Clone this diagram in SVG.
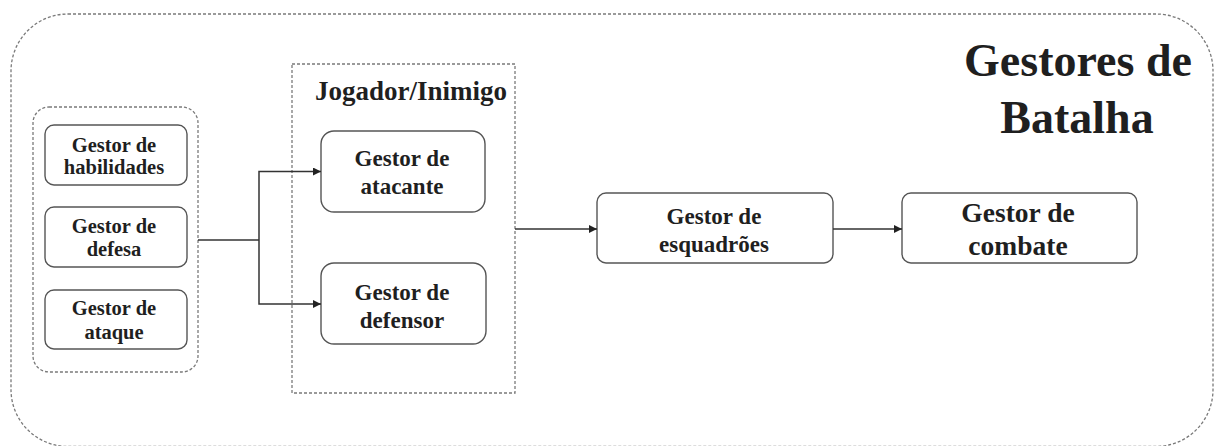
<svg xmlns="http://www.w3.org/2000/svg" width="1215" height="446" viewBox="0 0 1215 446">
  <style>
    .frame { fill: none; stroke: #7a7a7a; stroke-width: 1.3; stroke-dasharray: 3 2; }
    .node rect { fill: #ffffff; stroke: #555555; stroke-width: 1.4; }
    text { font-family: 'Times New Roman', 'Liberation Serif', serif; }
    .label { font-weight: bold; fill: #1f1f1f; text-anchor: middle; }
    .wire { fill: none; stroke: #333333; stroke-width: 1.5; }
  </style>
  <defs>
    <marker id="arrow" viewBox="0 0 10 10" refX="10" refY="5" markerWidth="8" markerHeight="8" markerUnits="userSpaceOnUse" orient="auto">
      <path d="M0,0 L10,5 L0,10 z" fill="#222222"/>
    </marker>
  </defs>

  <rect width="1215" height="446" fill="#ffffff"/>

  <!-- outer boundary: battle managers -->
  <g id="gestores-de-batalha">
    <rect class="frame" x="11" y="14" width="1202" height="432.5" rx="57" ry="57"/>
    <text class="label" font-size="46" x="1078" y="76">Gestores de</text>
    <text class="label" font-size="46" x="1077" y="133">Batalha</text>
  </g>

  <!-- left cluster of basic managers -->
  <g id="grupo-base">
    <rect class="frame" x="33" y="107" width="165" height="265" rx="16" ry="16"/>
  </g>

  <g id="gestor-habilidades" class="node">
    <rect x="45" y="125" width="142" height="60" rx="9"/>
    <text class="label" font-size="20.5" x="114" y="151.5">Gestor de</text>
    <text class="label" font-size="20.5" x="114" y="174">habilidades</text>
  </g>

  <g id="gestor-defesa" class="node">
    <rect x="45" y="207" width="142" height="60" rx="9"/>
    <text class="label" font-size="20.5" x="114" y="232.5">Gestor de</text>
    <text class="label" font-size="20.5" x="114" y="256">defesa</text>
  </g>

  <g id="gestor-ataque" class="node">
    <rect x="45" y="290" width="142" height="59" rx="9"/>
    <text class="label" font-size="20.5" x="114" y="315">Gestor de</text>
    <text class="label" font-size="20.5" x="114" y="338.5">ataque</text>
  </g>

  <!-- player / enemy container -->
  <g id="jogador-inimigo">
    <rect class="frame" x="292" y="64" width="223" height="329"/>
    <text class="label" font-size="27" x="411" y="100">Jogador/Inimigo</text>
  </g>

  <g id="gestor-atacante" class="node">
    <rect x="321" y="131" width="164" height="81" rx="13"/>
    <text class="label" font-size="23" x="402" y="166">Gestor de</text>
    <text class="label" font-size="23" x="402" y="194">atacante</text>
  </g>

  <g id="gestor-defensor" class="node">
    <rect x="321" y="263" width="165" height="81" rx="13"/>
    <text class="label" font-size="23" x="402" y="299.5">Gestor de</text>
    <text class="label" font-size="23" x="402" y="327.5">defensor</text>
  </g>

  <g id="gestor-esquadroes" class="node">
    <rect x="597" y="193" width="236" height="70" rx="9"/>
    <text class="label" font-size="23" x="714" y="224">Gestor de</text>
    <text class="label" font-size="23" x="714" y="251.5">esquadrões</text>
  </g>

  <g id="gestor-combate" class="node">
    <rect x="902" y="193" width="235" height="70" rx="9"/>
    <text class="label" font-size="27.5" x="1018" y="221.5">Gestor de</text>
    <text class="label" font-size="27.5" x="1018" y="255">combate</text>
  </g>

  <!-- connectors -->
  <g id="conectores">
    <path class="wire" d="M198,240 H259"/>
    <path class="wire" d="M259,240 V171.5 H321" marker-end="url(#arrow)"/>
    <path class="wire" d="M259,240 V304 H321" marker-end="url(#arrow)"/>
    <path class="wire" d="M515,229 H597" marker-end="url(#arrow)"/>
    <path class="wire" d="M833,229 H902" marker-end="url(#arrow)"/>
  </g>
</svg>
